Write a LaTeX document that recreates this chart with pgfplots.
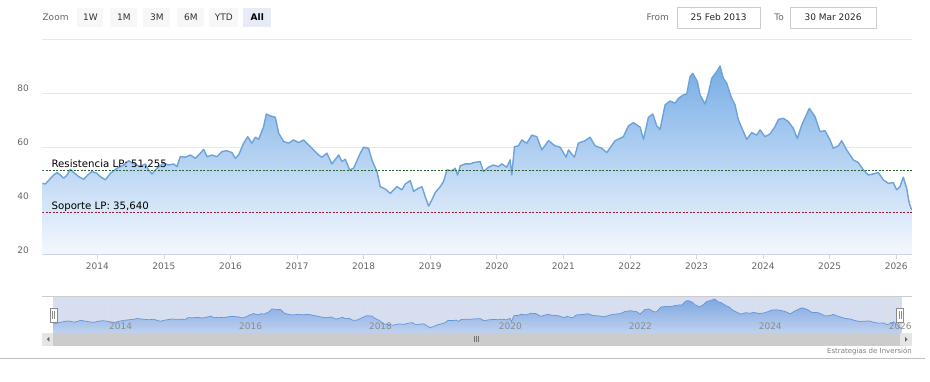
\documentclass[border=0pt]{standalone}
\usepackage{pgfplots}
\usepackage{pgfplotstable}
\pgfplotsset{compat=1.18}
\usepackage{fontspec}
\setmainfont{DejaVu Sans}
\definecolor{lineblue}{RGB}{108,163,218}
\definecolor{filltop}{RGB}{120,173,230}
\definecolor{fillbot}{RGB}{245,249,254}
\definecolor{gridc}{RGB}{232,232,232}
\definecolor{axisc}{RGB}{204,214,235}
\definecolor{txt}{RGB}{102,102,102}
\definecolor{resg}{RGB}{40,100,50}
\definecolor{supr}{RGB}{140,30,60}
\definecolor{navbg}{RGB}{214,222,240}
\definecolor{navtop}{RGB}{125,168,226}
\definecolor{navbot}{RGB}{192,209,238}
\definecolor{navline}{RGB}{100,150,215}
\definecolor{btn}{RGB}{247,247,247}
\definecolor{btnsel}{RGB}{230,235,245}
\definecolor{boxc}{RGB}{204,204,204}

\pgfplotstableread{
year val
2013.169 46.5
2013.219 46.3
2013.344 49.6
2013.394 50.5
2013.444 49.6
2013.494 48.4
2013.545 49.6
2013.595 51.7
2013.645 50.5
2013.720 49.0
2013.795 48.0
2013.855 49.6
2013.920 50.9
2013.995 50.2
2014.045 49.0
2014.120 47.8
2014.195 50.2
2014.295 52.1
2014.395 53.3
2014.470 54.9
2014.546 53.7
2014.646 52.7
2014.721 53.7
2014.771 51.5
2014.821 50.0
2014.896 52.1
2014.996 54.0
2015.071 53.3
2015.146 53.7
2015.196 52.7
2015.246 56.4
2015.321 56.2
2015.396 57.0
2015.471 55.8
2015.522 57.0
2015.597 59.1
2015.647 56.4
2015.722 57.0
2015.797 56.4
2015.872 58.3
2015.947 58.6
2016.022 57.9
2016.072 55.8
2016.122 57.0
2016.197 61.4
2016.257 63.8
2016.322 61.4
2016.372 63.6
2016.422 62.8
2016.497 67.5
2016.537 72.2
2016.598 71.5
2016.673 71.0
2016.723 65.1
2016.798 62.0
2016.873 61.4
2016.948 62.6
2017.023 61.6
2017.098 62.6
2017.173 60.7
2017.248 58.9
2017.323 57.0
2017.373 56.2
2017.448 57.7
2017.523 53.7
2017.624 57.0
2017.674 54.6
2017.724 55.4
2017.789 51.5
2017.849 52.1
2017.949 57.7
2017.999 59.9
2018.074 59.5
2018.124 55.2
2018.199 50.9
2018.249 45.3
2018.324 44.4
2018.399 42.8
2018.499 45.3
2018.575 44.1
2018.625 46.3
2018.700 47.5
2018.750 43.5
2018.825 44.7
2018.875 45.3
2018.925 41.6
2018.975 38.1
2019.025 40.4
2019.075 43.1
2019.150 45.3
2019.200 47.2
2019.250 51.5
2019.325 51.2
2019.375 52.1
2019.410 49.6
2019.450 53.0
2019.525 53.7
2019.600 53.7
2019.650 54.2
2019.750 54.6
2019.800 50.9
2019.875 52.5
2019.950 53.3
2020.025 52.7
2020.075 53.7
2020.150 52.5
2020.200 55.2
2020.225 49.6
2020.265 60.1
2020.325 60.4
2020.375 62.6
2020.450 61.4
2020.526 64.4
2020.601 63.8
2020.676 58.9
2020.776 62.3
2020.876 60.4
2020.951 59.9
2021.041 56.2
2021.076 58.9
2021.166 56.2
2021.226 61.4
2021.326 62.3
2021.401 63.6
2021.477 60.4
2021.577 59.5
2021.652 57.9
2021.777 62.3
2021.902 63.8
2021.977 67.8
2022.052 69.0
2022.153 67.3
2022.203 62.8
2022.278 71.0
2022.343 72.2
2022.403 67.8
2022.453 66.5
2022.528 75.6
2022.603 77.0
2022.678 76.2
2022.728 78.0
2022.803 79.3
2022.853 79.6
2022.903 86.0
2022.943 87.3
2023.013 84.2
2023.053 79.3
2023.128 75.9
2023.178 79.9
2023.228 85.4
2023.303 87.9
2023.353 90.0
2023.403 85.4
2023.453 83.6
2023.528 78.0
2023.578 75.6
2023.629 70.0
2023.704 65.7
2023.754 62.8
2023.829 65.3
2023.904 64.4
2023.954 66.3
2024.029 63.8
2024.104 64.8
2024.179 67.5
2024.229 70.2
2024.304 70.6
2024.379 69.4
2024.454 66.9
2024.514 63.1
2024.580 68.1
2024.695 74.3
2024.780 71.2
2024.855 65.7
2024.930 66.0
2025.005 62.6
2025.055 59.5
2025.130 60.4
2025.180 62.3
2025.255 58.9
2025.355 55.2
2025.430 54.2
2025.506 51.5
2025.581 49.6
2025.656 50.0
2025.731 50.5
2025.806 47.8
2025.881 46.5
2025.956 46.8
2026.006 44.1
2026.056 45.3
2026.106 48.8
2026.156 44.7
2026.196 39.1
2026.231 36.7
}\pricedata

\begin{document}
\begin{tikzpicture}[x=1pt,y=1pt]
\path[fill=white] (0,0) rectangle (930,382);

% ---- range selector ----
\node[anchor=west, text=txt, font=\fontsize{9}{10}\selectfont, inner sep=0] at (42,364.5) {Zoom};
\foreach \a/\b/\t in {77/103/1W, 110/137/1M, 143/170/3M, 177/204/6M, 209/238/YTD}{
  \fill[btn] (\a,355) rectangle (\b,374);
  \node[text=black!80, font=\fontsize{9}{10}\selectfont, inner sep=0] at ({(\a+\b)/2},364.5) {\t};
}
\fill[btnsel] (243,355) rectangle (271,374);
\node[text=black, font=\bfseries\fontsize{9}{10}\selectfont, inner sep=0] at (257,364.5) {All};

\node[anchor=east, text=txt, font=\fontsize{9}{10}\selectfont, inner sep=0] at (669,364.5) {From};
\draw[boxc, fill=white] (677,354) rectangle (760,375);
\node[text=black!85, font=\fontsize{9}{10}\selectfont, inner sep=0] at (718.5,364.5) {25 Feb 2013};
\node[anchor=east, text=txt, font=\fontsize{9}{10}\selectfont, inner sep=0] at (784,364.5) {To};
\draw[boxc, fill=white] (790,354) rectangle (876,375);
\node[text=black!85, font=\fontsize{9}{10}\selectfont, inner sep=0] at (833,364.5) {30 Mar 2026};

% ---- main chart ----
\begin{axis}[
  at={(42pt,127pt)}, anchor=south west,
  width=870pt, height=216pt, scale only axis,
  xmin=2013.174, xmax=2026.237, ymin=20, ymax=100,
  axis line style={draw=none},
  ytick={20,40,60,80,100}, yticklabels={20,40,60,80,},
  xtick={2014,2015,...,2026},
  xticklabel style={/pgf/number format/1000 sep={}, font=\fontsize{9}{10}\selectfont, text=txt},
  yticklabel style={font=\fontsize{9}{10}\selectfont, text=txt, xshift=-10pt, yshift=5pt},
  ymajorgrids, major grid style={draw=gridc, line width=0.8pt},
  xtick pos=left, xtick align=outside, major tick length=4pt,
  xtick style={draw=axisc, line width=0.8pt},
  ytick style={draw=none},
  /pgf/number format/assume math mode=true,
  every axis plot/.append style={mark=none},
]
\addplot[draw=none, top color=filltop, bottom color=fillbot] table[x=year,y=val]{\pricedata} \closedcycle;
\addplot[lineblue, line width=1.4pt, line join=round] table[x=year,y=val]{\pricedata};
\addplot[resg, line width=0.8pt, dash pattern=on 2pt off 1.5pt] coordinates {(2013.174,51.255) (2026.237,51.255)};
\addplot[supr, line width=0.8pt, dash pattern=on 2pt off 1.5pt] coordinates {(2013.174,35.64) (2026.237,35.64)};
\draw[axisc, line width=0.8pt] (rel axis cs:0,0) -- (rel axis cs:1,0);
\node[anchor=base west, inner sep=0, font=\fontsize{10.2}{12}\selectfont] at (axis cs:2013.309,52.2) {Resistencia LP: 51,255};
\node[anchor=base west, inner sep=0, font=\fontsize{10.2}{12}\selectfont] at (axis cs:2013.309,36.7) {Soporte LP: 35,640};
\end{axis}

% ---- navigator ----
\draw[boxc, line width=0.8pt] (42,85) -- (912,85);
\fill[navbg] (53,49) rectangle (902,85);
\begin{axis}[
  at={(53pt,49pt)}, anchor=south west,
  width=849pt, height=36pt, scale only axis,
  xmin=2013.174, xmax=2026.237, ymin=29, ymax=94,
  axis line style={draw=none},
  xtick={2014,2016,...,2026}, xticklabels={}, ytick=\empty,
  xmajorgrids, major grid style={draw=black!12, line width=0.6pt},
  tick style={draw=none},
  every axis plot/.append style={mark=none},
  clip=false,
]
\addplot[draw=none, top color=navtop, bottom color=navbot] table[x=year,y=val]{\pricedata} \closedcycle;
\addplot[navline, line width=0.7pt] table[x=year,y=val]{\pricedata};
\foreach \yr in {2014,2016,2018,2020,2022,2024,2026}{
  \edef\tmp{\noexpand\node[anchor=west, inner sep=0, text=black!45, font=\noexpand\fontsize{9}{10}\noexpand\selectfont] at (axis cs:\yr+0.03,41.5) {\yr};}
  \tmp
}
\end{axis}
% handles
\foreach \hx in {53,900}{
  \draw[black!45, fill=white, line width=0.6pt] (\hx-3.5,60) rectangle (\hx+3.5,74);
  \draw[black!45, line width=0.5pt] (\hx-1,63) -- (\hx-1,71) (\hx+1,63) -- (\hx+1,71);
}
% scrollbar
\fill[black!5] (42,36) rectangle (912,49);
\fill[black!20] (53,36) rectangle (900,49);
\fill[black!10] (42,36) rectangle (53,49);
\fill[black!10] (900,36) rectangle (912,49);
\fill[black!60] (49,40) -- (49,45) -- (46.5,42.5) -- cycle;
\fill[black!60] (905,40) -- (905,45) -- (907.5,42.5) -- cycle;
\draw[black!55, line width=0.5pt] (474.5,39.5) -- (474.5,45.5) (476.5,39.5) -- (476.5,45.5) (478.5,39.5) -- (478.5,45.5);
% credit
\node[anchor=base east, inner sep=0, text=black!50, font=\fontsize{7}{8}\selectfont] at (912,28.5) {Estrategias de Inversión};
\draw[black!25, line width=0.8pt] (0,23) -- (925,23);
\end{tikzpicture}
\end{document}
